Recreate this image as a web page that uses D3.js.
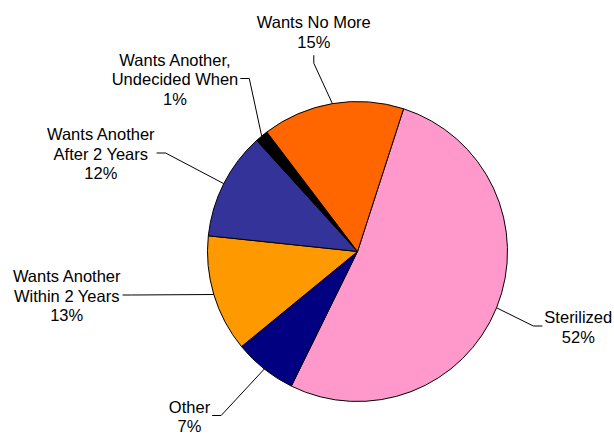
<!DOCTYPE html>
<html>
<head>
<meta charset="utf-8">
<script src="https://cdn.jsdelivr.net/npm/d3@7"></script>
<style>
  html, body { margin: 0; padding: 0; background: #fff; }
  svg text { font-family: "Liberation Sans", Arial, sans-serif; font-size: 16.5px; fill: #000; }
</style>
</head>
<body>
<div id="chart"></div>
<script>
// slice order runs clockwise, starting at the Sterilized edge
var categories = ["Sterilized", "Other", "Wants Another Within 2 Years", "Wants Another After 2 Years",
    "Wants Another, Undecided When", "Wants No More"];
var labelLines = [["Sterilized"], ["Other"], ["Wants Another", "Within 2 Years"], ["Wants Another", "After 2 Years"],
    ["Wants Another,", "Undecided When"], ["Wants No More"]];
var shares = [52.3, 6.8, 12.6, 11.6, 1.4, 15.3];
var colors = ["#FF99CC", "#000080", "#FF9900", "#333399", "#000000", "#FF6600"];

// where each label sits and which side its leader line leaves from
var labelLayout = [
    {cx: 578.3, cy: 327, side: "left"},
    {cx: 189.5, cy: 416.5, side: "right"},
    {cx: 66.7, cy: 296, side: "right"},
    {cx: 100.8, cy: 154, side: "right"},
    {cx: 175, cy: 79.5, side: "right"},
    {cx: 313.8, cy: 32, side: "bottom"}
];

var width = 614, height = 434;
var center = [357.5, 251.5], radius = 150;
var startDeg = 17.9;
var lineH = 19.5;

var svg = d3.select("#chart").append("svg")
    .attr("width", width)
    .attr("height", height);

svg.append("rect").attr("width", width).attr("height", height).attr("fill", "#fff");

var pie = d3.pie().sort(null).value(function(d) { return d; })
    .startAngle(startDeg * Math.PI / 180)
    .endAngle(startDeg * Math.PI / 180 + 2 * Math.PI);
var arcs = pie(shares);

var arc = d3.arc().innerRadius(0).outerRadius(radius);
var edge = d3.arc().innerRadius(radius).outerRadius(radius);

var g = svg.append("g").attr("transform", "translate(" + center[0] + "," + center[1] + ")");

g.selectAll("path.slice")
    .data(arcs)
    .enter().append("path")
    .attr("class", "slice")
    .attr("d", arc)
    .attr("fill", function(d, i) { return colors[i]; })
    .attr("stroke", "#000")
    .attr("stroke-width", 1)
    .attr("stroke-linejoin", "round");

// labels
arcs.forEach(function(d, i) {
    var lay = labelLayout[i];
    var lines = labelLines[i].concat([Math.round(shares[i]) + "%"]);
    var n = lines.length;

    var t = svg.append("text").attr("text-anchor", "middle");
    lines.forEach(function(s, k) {
        t.append("tspan")
            .attr("x", lay.cx)
            .attr("y", lay.cy + (k - (n - 1) / 2) * lineH)
            .attr("dy", "0.35em")
            .text(s);
    });

    var maxW = 0;
    t.selectAll("tspan").each(function() {
        maxW = Math.max(maxW, this.getComputedTextLength());
    });

    var a, b;
    if (lay.side === "left") {
        a = [lay.cx - maxW / 2 - 2, lay.cy - 1];
        b = [a[0] - 9, a[1]];
    } else if (lay.side === "right") {
        a = [lay.cx + maxW / 2 + 2, lay.cy - 1];
        b = [a[0] + 9, a[1]];
    } else {
        a = [lay.cx, lay.cy + (n - 1) / 2 * lineH + 13.5];
        b = [a[0], a[1] + 8];
    }
    var p = edge.centroid(d);
    var tip = [center[0] + p[0], center[1] + p[1]];

    svg.append("path")
        .attr("d", d3.line()([a, b, tip]))
        .attr("fill", "none")
        .attr("stroke", "#000")
        .attr("stroke-width", 1);
});
</script>
</body>
</html>
